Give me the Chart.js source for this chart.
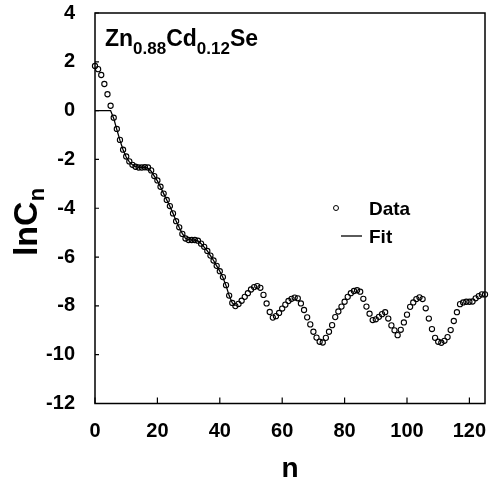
<!DOCTYPE html>
<html>
<head>
<meta charset="utf-8">
<script src="https://cdn.jsdelivr.net/npm/chart.js@4.4.1/dist/chart.umd.min.js"></script>
<style>
  html, body { margin: 0; padding: 0; background: #fff; }
  #wrap { width: 492px; height: 481px; }
</style>
</head>
<body>
<div id="wrap"><canvas id="chart"></canvas></div>
<script>
// ── data ────────────────────────────────────────────────────
const nValues = [...Array(126).keys()];   // n = 0 … 125
const lnC = [
   1.83,  1.70,  1.46,  1.09,  0.67,  0.20, -0.29, -0.75, -1.20, -1.60,
  -1.88, -2.08, -2.22, -2.30, -2.33, -2.33, -2.32, -2.33, -2.45, -2.68,
  -2.86, -3.12, -3.40, -3.66, -3.91, -4.21, -4.53, -4.78, -5.05, -5.24,
  -5.30, -5.30, -5.30, -5.33, -5.45, -5.58, -5.75, -5.94, -6.14, -6.36,
  -6.58, -6.82, -7.15, -7.58, -7.88, -8.01, -7.92, -7.79, -7.63, -7.48,
  -7.33, -7.23, -7.19, -7.26, -7.55, -7.90, -8.25, -8.48, -8.42, -8.29,
  -8.11, -7.95, -7.80, -7.71, -7.66, -7.69, -7.90, -8.17, -8.47, -8.76,
  -9.06, -9.30, -9.47, -9.50, -9.31, -9.06, -8.79, -8.46, -8.23, -8.03,
  -7.83, -7.63, -7.48, -7.39, -7.36, -7.42, -7.71, -8.03, -8.32, -8.58,
  -8.55, -8.45, -8.34, -8.26, -8.52, -8.80, -9.00, -9.20, -8.98, -8.68,
  -8.36, -8.04, -7.86, -7.72, -7.65, -7.72, -8.10, -8.52, -8.95, -9.31,
  -9.47, -9.51, -9.43, -9.28, -8.99, -8.62, -8.26, -7.93, -7.86, -7.83,
  -7.83, -7.82, -7.69, -7.60, -7.53, -7.53,
];
const fitN = [...Array(46).keys()];      // fit drawn for n = 0 … 45
const fitY = [
   0.00,  0.00,  0.00,  0.00,  0.00,  0.00, -0.32, -0.78, -1.22, -1.60,
  -1.90, -2.10, -2.22, -2.29, -2.32, -2.32, -2.32, -2.36, -2.48, -2.68,
  -2.88, -3.13, -3.40, -3.66, -3.92, -4.21, -4.52, -4.79, -5.04, -5.23,
  -5.29, -5.30, -5.30, -5.34, -5.45, -5.59, -5.75, -5.94, -6.14, -6.36,
  -6.58, -6.84, -7.17, -7.58, -7.88, -8.00,
];
const xTicks = [0, 20, 40, 60, 80, 100, 120];
const yTicks = [-12, -10, -8, -6, -4, -2, 0, 2, 4];

const FONT = "'Liberation Sans', Arial, sans-serif";

// ── frame, inward ticks, labels and legend ──────────────────
const decor = {
  id: 'decor',
  afterDraw(chart) {
    const { ctx, chartArea: a, scales: { x, y } } = chart;
    ctx.save();
    ctx.strokeStyle = '#000';
    ctx.lineWidth = 1.5;
    ctx.strokeRect(a.left, a.top, a.right - a.left, a.bottom - a.top);

    ctx.lineWidth = 1.2;
    ctx.beginPath();
    xTicks.forEach(v => {
      const px = x.getPixelForValue(v);
      ctx.moveTo(px, a.bottom); ctx.lineTo(px, a.bottom - 6);
    });
    yTicks.forEach(v => {
      const py = y.getPixelForValue(v);
      ctx.moveTo(a.left, py); ctx.lineTo(a.left + 4, py);
    });
    ctx.stroke();

    ctx.fillStyle = '#000';
    ctx.textBaseline = 'alphabetic';
    ctx.textAlign = 'left';

    // compound label
    let tx = a.left + 10;
    const parts = [['Zn', 0], ['0.88', 1], ['Cd', 0], ['0.12', 1], ['Se', 0]];
    parts.forEach(([t, sub]) => {
      ctx.font = sub ? `bold 17px ${FONT}` : `bold 23px ${FONT}`;
      ctx.fillText(t, tx, sub ? 54 : 46);
      tx += ctx.measureText(t).width;
    });

    // x title
    ctx.font = `bold 28px ${FONT}`;
    ctx.textAlign = 'center';
    ctx.fillText('n', (a.left + a.right) / 2, 477);

    // y title, rotated
    ctx.save();
    ctx.translate(37, 222);
    ctx.rotate(-Math.PI / 2);
    ctx.font = `bold 34px ${FONT}`;
    const w1 = ctx.measureText('lnC').width;
    ctx.font = `bold 22px ${FONT}`;
    const w2 = ctx.measureText('n').width;
    ctx.textAlign = 'left';
    ctx.font = `bold 34px ${FONT}`;
    ctx.fillText('lnC', -(w1 + w2) / 2, 0);
    ctx.font = `bold 22px ${FONT}`;
    ctx.fillText('n', -(w1 + w2) / 2 + w1, 7);
    ctx.restore();

    // legend
    ctx.lineWidth = 1;
    ctx.beginPath();
    ctx.arc(336, 208, 2.5, 0, Math.PI * 2);
    ctx.stroke();
    ctx.lineWidth = 1.3;
    ctx.beginPath();
    ctx.moveTo(341, 236); ctx.lineTo(362, 236);
    ctx.stroke();
    ctx.font = `bold 19px ${FONT}`;
    ctx.textAlign = 'left';
    ctx.fillText('Data', 369, 215);
    ctx.fillText('Fit', 369, 243);
    ctx.restore();
  },
};

const noPad = s => { s.paddingTop = 0; s.paddingBottom = 0; s.paddingLeft = 0; s.paddingRight = 0; };

new Chart(document.getElementById('chart'), {
  type: 'scatter',
  data: {
    datasets: [
      {
        label: 'Data',
        data: nValues.map((n, i) => ({ x: n, y: lnC[i] })),
        pointStyle: 'circle',
        pointRadius: 2.6,
        pointBorderWidth: 1.1,
        borderColor: '#000',
        backgroundColor: 'rgba(255,255,255,0)',
        showLine: false,
        clip: false,
        order: 1,
      },
      {
        label: 'Fit',
        data: fitN.map((n, i) => ({ x: n, y: fitY[i] })),
        showLine: true,
        borderColor: '#000',
        borderWidth: 1.3,
        pointRadius: 0,
        tension: 0,
        order: 2,
      },
    ],
  },
  options: {
    responsive: true, maintainAspectRatio: false, animation: false,
    layout: { padding: { top: 13, right: 7, left: 0, bottom: 0 } },
    plugins: { legend: { display: false }, tooltip: { enabled: false } },
    scales: {
      x: {
        type: 'linear', min: 0, max: 125,
        afterBuildTicks: s => { s.ticks = xTicks.map(v => ({ value: v })); },
        afterFit: s => { s.height = 77.5; noPad(s); },
        grid: { display: false },
        border: { display: false },
        ticks: { color: '#000', padding: 8, maxRotation: 0, font: { family: FONT, size: 20, weight: 'bold' } },
      },
      y: {
        type: 'linear', min: -12, max: 4,
        afterBuildTicks: s => { s.ticks = yTicks.map(v => ({ value: v })); },
        afterFit: s => { s.width = 95; noPad(s); },
        grid: { display: false },
        border: { display: false },
        ticks: { color: '#000', padding: 12, font: { family: FONT, size: 20, weight: 'bold' } },
      },
    },
  },
  plugins: [decor],
});
</script>
</body>
</html>
